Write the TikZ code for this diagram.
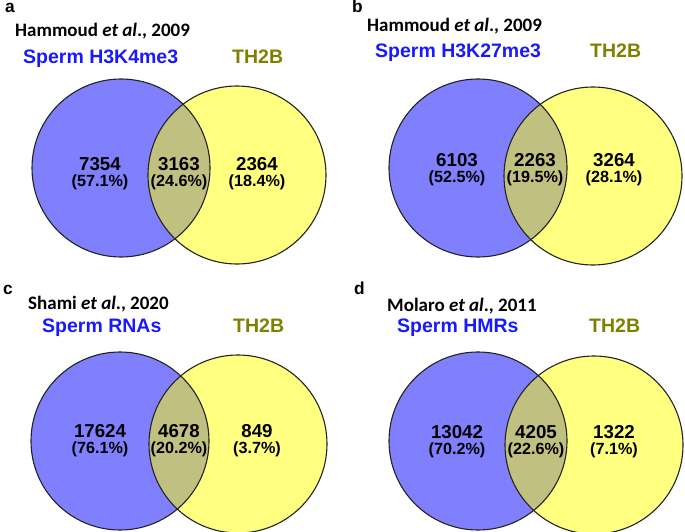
\documentclass[tikz,border=0pt]{standalone}
\usepackage{fontspec}
\setmainfont{Liberation Sans}
\newfontfamily\calib{Carlito}
\definecolor{vblue}{RGB}{128,128,255}
\definecolor{vyellow}{RGB}{255,255,128}
\definecolor{vover}{RGB}{192,192,128}
\definecolor{tblue}{RGB}{25,25,255}
\definecolor{tolive}{RGB}{128,128,0}
\definecolor{edgecol}{RGB}{35,35,35}
\tikzset{
  lbl/.style={inner sep=0pt, anchor=base west, font=\fontsize{17.3}{18}\selectfont\bfseries},
  ref/.style={inner sep=0pt, anchor=base west, font=\fontsize{19}{20}\selectfont\calib\bfseries},
  setb/.style={inner sep=0pt, anchor=base west, text=tblue, font=\fontsize{19.5}{20}\selectfont\bfseries},
  sety/.style={inner sep=0pt, anchor=base west, text=tolive, font=\fontsize{19.5}{20}\selectfont\bfseries},
  num/.style={inner sep=0pt, anchor=base, font=\fontsize{18.7}{19}\selectfont\bfseries},
  pct/.style={inner sep=0pt, anchor=base, font=\fontsize{16.2}{17}\selectfont\bfseries},
  ring/.style={draw=edgecol, line width=1.1pt}
}
\newcommand{\vennpair}[3]{%
  \fill[vblue] (#1) circle[radius=#3];
  \fill[vyellow] (#2) circle[radius=#3];
  \begin{scope}
    \clip (#1) circle[radius=#3];
    \fill[vover] (#2) circle[radius=#3];
  \end{scope}
  \draw[ring] (#1) circle[radius=#3];
  \draw[ring] (#2) circle[radius=#3];
}
\begin{document}
\begin{tikzpicture}[x=1pt,y=-1pt]
\useasboundingbox (0,0) rectangle (685,532);
% panel a
\coordinate (aB) at (121,168);
\coordinate (aY) at (237,175);
\vennpair{aB}{aY}{89}
\node[lbl] (aL) at (5,13) {a};
\node[ref] (aR) at (15,37) {Hammoud \textit{et al}., 2009};
\node[setb] (aS) at (23,64) {Sperm H3K4me3};
\node[sety] (aT) at (232,64) {TH2B};
\node[num] (a1) at (100,170) {7354};
\node[pct] (a1p) at (100,186) {(57.1\%)};
\node[num] (a2) at (179,170) {3163};
\node[pct] (a2p) at (179,186) {(24.6\%)};
\node[num] (a3) at (257,170) {2364};
\node[pct] (a3p) at (257,186) {(18.4\%)};
% panel b
\coordinate (bB) at (478,168);
\coordinate (bY) at (593,176);
\vennpair{bB}{bY}{89}
\node[lbl] (bL) at (352,13) {b};
\node[ref] (bR) at (367,32) {Hammoud \textit{et al}., 2009};
\node[setb] (bS) at (375,58) {Sperm H3K27me3};
\node[sety] (bT) at (590,58) {TH2B};
\node[num] (b1) at (457,166) {6103};
\node[pct] (b1p) at (457,182) {(52.5\%)};
\node[num] (b2) at (535,166) {2263};
\node[pct] (b2p) at (535,182) {(19.5\%)};
\node[num] (b3) at (614,166) {3264};
\node[pct] (b3p) at (614,182) {(28.1\%)};
% panel c
\coordinate (cB) at (120,441);
\coordinate (cY) at (238,444);
\vennpair{cB}{cY}{89}
\node[lbl] (cL) at (3,294) {c};
\node[ref] (cR) at (28,309) {Shami \textit{et al}., 2020};
\node[setb] (cS) at (42,332) {Sperm RNAs};
\node[sety] (cT) at (233,332) {TH2B};
\node[num] (c1) at (100,437) {17624};
\node[pct] (c1p) at (100,453) {(76.1\%)};
\node[num] (c2) at (179,437) {4678};
\node[pct] (c2p) at (179,453) {(20.2\%)};
\node[num] (c3) at (257,437) {849};
\node[pct] (c3p) at (257,453) {(3.7\%)};
% panel d
\coordinate (dB) at (478,441);
\coordinate (dY) at (594,445);
\vennpair{dB}{dY}{89}
\node[lbl] (dL) at (354,294) {d};
\node[ref] (dR) at (387,311) {Molaro \textit{et al}., 2011};
\node[setb] (dS) at (397,332) {Sperm HMRs};
\node[sety] (dT) at (589,332) {TH2B};
\node[num] (d1) at (457,438) {13042};
\node[pct] (d1p) at (457,454) {(70.2\%)};
\node[num] (d2) at (536,438) {4205};
\node[pct] (d2p) at (536,454) {(22.6\%)};
\node[num] (d3) at (614,438) {1322};
\node[pct] (d3p) at (614,454) {(7.1\%)};
\end{tikzpicture}
\end{document}
